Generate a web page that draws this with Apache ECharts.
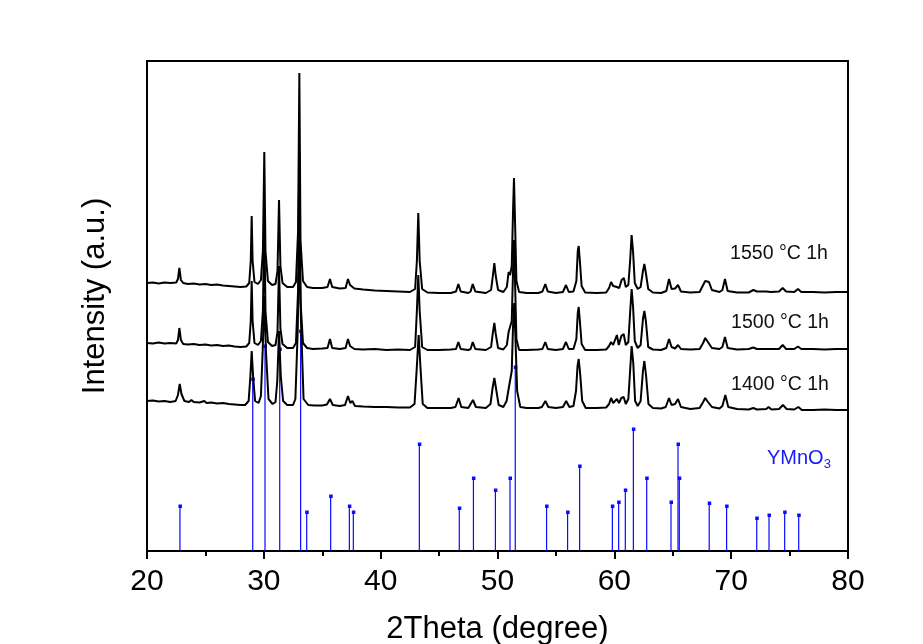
<!DOCTYPE html>
<html>
<head>
<meta charset="utf-8">
<script src="https://cdn.jsdelivr.net/npm/echarts@6/dist/echarts.min.js"></script>
<style>html,body{margin:0;padding:0;background:#fff}#c{width:923px;height:644px}</style>
</head>
<body>
<div id="c"></div>
<script>
// 2Theta tick labels
const xTicks = [20, 30, 40, 50, 60, 70, 80];
const traceNames = ['1550 °C 1h', '1500 °C 1h', '1400 °C 1h'];

// [2Theta, intensity (a.u., offset)]
const trace1550 = [[20.0,268],[20.5,268.5],[21.0,267.5],[21.5,268.5],[22.0,268],[22.5,268.5],[22.65,272],[22.77,283],[22.9,271],[23.1,268],[23.5,267],[24.0,267.5],[24.5,266.5],[25.0,267],[25.5,266],[26.0,266.5],[26.5,265.5],[27.0,265],[27.5,264.5],[28.0,264],[28.5,264.5],[28.75,268],[28.88,290],[28.96,335],[29.04,290],[29.2,269],[29.5,267],[29.75,271],[29.92,300],[30.04,399],[30.14,300],[30.35,270],[30.7,266],[31.0,267],[31.17,280],[31.3,351],[31.42,285],[31.6,268],[32.0,264],[32.5,264],[32.75,269],[32.93,320],[33.04,478],[33.14,310],[33.35,270],[33.7,264],[34.2,263],[35.0,263],[35.45,264],[35.66,272],[35.85,264],[36.5,262.5],[37.0,263],[37.2,272],[37.38,266],[37.55,267.5],[37.75,262.5],[38.5,261.5],[39.5,260.5],[40.5,260],[41.5,259.5],[42.5,259],[42.95,262],[43.1,290],[43.22,338],[43.34,290],[43.55,262],[44.0,258.5],[45.0,258],[46.0,258],[46.45,259.5],[46.65,267],[46.85,259.5],[47.5,258],[47.7,259.5],[47.88,267],[48.1,259.5],[49.0,258],[49.45,261],[49.6,275],[49.73,288],[49.85,275],[50.05,261],[50.5,259],[50.8,264],[50.95,279],[51.08,276],[51.22,285],[51.33,340],[51.41,373],[51.5,330],[51.62,270],[51.85,259],[52.5,258],[53.5,258],[53.85,259.5],[54.09,267],[54.3,259.5],[55.0,258],[55.6,259],[55.86,266],[56.1,259],[56.5,259.5],[56.75,270],[56.87,300],[56.95,305],[57.05,290],[57.2,265],[57.5,258.5],[58.5,258],[59.3,258.5],[59.55,263],[59.72,269],[59.9,265],[60.05,266],[60.22,264],[60.42,263],[60.62,271],[60.82,273],[60.98,264],[61.2,266],[61.35,290],[61.48,316],[61.6,300],[61.75,268],[62.0,262],[62.25,264],[62.45,280],[62.57,287],[62.7,278],[62.9,262],[63.3,258.5],[64.0,258],[64.45,260],[64.68,272],[64.9,262],[65.2,262.5],[65.45,266],[65.7,259.5],[66.5,258.5],[67.3,259],[67.6,266],[67.78,270],[67.95,268],[68.1,269],[68.35,261],[69.0,259],[69.25,261],[69.47,272],[69.7,260],[70.5,258.5],[71.5,258.5],[71.9,261],[72.2,259.5],[73.0,259.5],[73.15,261.5],[73.4,259],[74.1,259.5],[74.41,263],[74.7,259.5],[75.4,259],[75.72,262],[76.0,259],[77.0,259],[78.0,258.5],[79.0,259],[80.0,259]];

const trace1500 = [[20.0,208],[20.5,207.5],[21.0,208.5],[21.5,207.5],[22.0,208],[22.5,207.5],[22.65,211],[22.77,223],[22.9,211],[23.1,207],[23.5,206.5],[24.0,207],[24.5,206],[25.0,206.5],[25.5,205.5],[26.0,206],[26.5,205],[27.0,205.5],[27.5,204.5],[28.0,204],[28.5,204.5],[28.75,208],[28.88,230],[28.96,270],[29.04,230],[29.2,208],[29.5,206],[29.75,210],[29.92,240],[30.04,330],[30.14,240],[30.35,209],[30.7,205],[31.0,206],[31.17,219],[31.3,285],[31.42,222],[31.6,207],[32.0,203],[32.5,203],[32.75,208],[32.93,260],[33.04,400],[33.14,250],[33.35,208],[33.7,203],[34.2,202],[35.0,202.5],[35.45,203],[35.66,212],[35.85,203],[36.5,202],[37.0,203],[37.2,212],[37.38,205],[37.55,207],[37.75,202],[38.5,201.5],[39.5,202],[40.5,201],[41.5,201.5],[42.5,201],[42.95,204],[43.1,240],[43.22,276],[43.34,240],[43.55,204],[44.0,201],[45.0,201],[46.0,201.5],[46.45,202],[46.65,209],[46.85,202],[47.5,201],[47.7,202],[47.88,209],[48.1,202],[49.0,201],[49.45,204],[49.6,218],[49.73,228],[49.85,217],[50.05,203],[50.5,201.5],[50.8,206],[50.95,219],[51.08,217],[51.22,230],[51.33,280],[51.41,311],[51.5,270],[51.62,212],[51.85,201],[52.5,201],[53.5,201.5],[53.85,202],[54.09,209],[54.3,202],[55.0,201],[55.6,202],[55.86,209],[56.1,202],[56.5,202],[56.75,212],[56.87,238],[56.95,244],[57.05,230],[57.2,207],[57.5,201],[58.5,201],[59.3,201.5],[59.55,205],[59.72,209],[59.9,206],[60.05,208],[60.22,216],[60.38,206],[60.6,215],[60.8,217],[60.98,206],[61.2,209],[61.35,238],[61.48,262],[61.6,245],[61.75,210],[62.0,203],[62.25,206],[62.45,232],[62.57,240],[62.7,230],[62.9,204],[63.3,201.5],[64.0,201],[64.45,203],[64.68,212],[64.9,204],[65.2,202.5],[65.45,206],[65.7,202],[66.5,201.5],[67.3,202],[67.6,208],[67.78,213],[67.95,210],[68.1,211],[68.35,203],[69.0,202],[69.25,204],[69.47,214],[69.7,203],[70.5,201.5],[71.5,202],[71.9,203.5],[72.2,202],[73.0,202],[73.15,203.5],[73.4,202],[74.1,202],[74.41,206],[74.7,202],[75.4,202],[75.72,204.5],[76.0,202],[77.0,202],[78.0,201.5],[79.0,202],[80.0,202]];

const trace1400 = [[20.0,150],[20.5,150.5],[21.0,149.5],[21.5,150],[22.0,149],[22.45,150],[22.65,156],[22.8,167],[22.95,157],[23.2,150],[23.6,149],[23.8,151],[24.0,149],[24.5,148.5],[24.9,150],[25.1,148],[25.5,148.5],[26.0,147.5],[26.5,148],[27.0,147],[27.5,146.5],[28.0,146],[28.4,146],[28.7,150],[28.85,175],[28.96,200],[29.08,175],[29.25,150],[29.55,148],[29.75,155],[29.9,200],[30.04,255],[30.18,200],[30.4,152],[30.75,147],[31.0,149],[31.15,170],[31.3,220],[31.45,175],[31.65,150],[32.0,146],[32.5,146],[32.7,152],[32.9,220],[33.04,315],[33.18,230],[33.4,152],[33.8,146],[34.3,145.5],[35.0,145.5],[35.4,146.5],[35.66,152],[35.9,146],[36.5,145],[36.95,146],[37.2,155],[37.4,148],[37.58,150],[37.8,145],[38.5,144.5],[39.5,144],[40.5,144],[41.5,143.5],[42.5,143.5],[42.9,147],[43.1,185],[43.25,216],[43.4,185],[43.6,147],[44.0,143],[45.0,143],[46.0,143],[46.4,144],[46.67,153],[46.9,144],[47.5,143],[47.65,144],[47.9,151],[48.15,144],[49.0,143],[49.4,147],[49.58,163],[49.73,173],[49.88,162],[50.1,146],[50.5,144],[50.78,150],[50.95,162],[51.08,163],[51.22,180],[51.33,225],[51.43,248],[51.53,215],[51.68,160],[51.95,144],[52.5,143],[53.5,143],[53.8,144],[54.1,150],[54.35,144],[55.0,143],[55.6,144],[55.88,150],[56.15,144],[56.5,145],[56.72,160],[56.85,185],[56.95,192],[57.07,178],[57.25,150],[57.55,143],[58.5,143],[59.3,143.5],[59.55,147],[59.72,153],[59.9,148],[60.05,150],[60.22,152],[60.4,148],[60.6,153],[60.8,154],[60.98,147],[61.2,152],[61.35,180],[61.48,205],[61.62,188],[61.78,150],[62.0,145],[62.25,150],[62.45,180],[62.57,190],[62.72,175],[62.92,147],[63.3,143],[64.0,142.5],[64.4,144],[64.68,153],[64.9,146],[65.2,147],[65.45,152],[65.7,144],[66.5,142],[67.3,143],[67.6,149],[67.78,153],[67.95,150],[68.1,151],[68.35,144],[69.0,142.5],[69.25,145],[69.5,156],[69.75,144],[70.5,142],[71.5,141.5],[71.9,143],[72.2,141.5],[73.0,142],[73.2,144],[73.45,141.5],[74.1,142],[74.43,146],[74.75,142],[75.4,141.5],[75.75,144],[76.05,141],[77.0,141],[78.0,141.5],[79.0,141],[80.0,141]];

// YMnO3 reference pattern: positions and relative intensities
const refPos = [22.82,29.05,30.1,31.36,33.15,33.67,35.72,37.32,37.66,43.31,46.73,47.94,49.82,51.07,51.52,54.2,56.0,57.03,59.83,60.37,60.94,61.63,62.77,64.85,65.45,65.56,68.12,69.61,72.19,73.24,74.58,75.78];
const refInt = [45,172,205,202,220,39,55,45,39,107,43,73,61,73,184,45,39,85,45,49,61,122,73,49,107,73,48,45,33,36,39,36];

const chart = echarts.init(document.getElementById('c'), null, {renderer: 'canvas'});
const FONT = "'Liberation Sans', Arial, sans-serif";

const refData = refPos.map((p, i) => [p, refInt[i]]);

const option = {
  animation: false,
  backgroundColor: '#fff',
  grid: {left: 147, right: 75, top: 61, bottom: 93, show: true, borderColor: '#000', borderWidth: 2,
    backgroundColor: 'transparent', containLabel: false, outerBoundsMode: 'none'},
  xAxis: {
    type: 'value', min: 20, max: 80, interval: 10,
    name: '2Theta (degree)', nameLocation: 'middle', nameGap: 63,
    nameTextStyle: {fontFamily: FONT, fontSize: 31, color: '#000'},
    axisLine: {show: true, lineStyle: {color: '#000', width: 2}},
    axisTick: {show: true, inside: false, length: 8, lineStyle: {color: '#000', width: 2}},
    minorTick: {show: true, splitNumber: 2, length: 5, lineStyle: {color: '#000', width: 2}},
    splitLine: {show: false},
    axisLabel: {fontFamily: FONT, fontSize: 30, color: '#000', margin: 16,
      formatter: v => xTicks.includes(v) ? String(v) : ''}
  },
  yAxis: {
    type: 'value', min: 0, max: 490,
    axisLine: {show: false}, axisTick: {show: false}, axisLabel: {show: false}, splitLine: {show: false}
  },
  series: [
    {
      type: 'custom', name: 'YMnO3', z: 1,
      data: refData,
      renderItem: function (params, api) {
        const x = api.value(0), y = api.value(1);
        const p0 = api.coord([x, 0]);
        const p1 = api.coord([x, y]);
        return {
          type: 'group',
          children: [
            {type: 'line', shape: {x1: p0[0], y1: p0[1], x2: p1[0], y2: p1[1]}, style: {stroke: '#0a0aff', lineWidth: 1.2}},
            {type: 'rect', shape: {x: p1[0] - 1.5, y: p1[1] - 1.5, width: 3.5, height: 3.5}, style: {fill: '#0a0aff'}}
          ]
        };
      }
    },
    {type: 'line', name: traceNames[0], data: trace1550, showSymbol: false, z: 3, lineStyle: {color: '#000', width: 2}},
    {type: 'line', name: traceNames[1], data: trace1500, showSymbol: false, z: 3, lineStyle: {color: '#000', width: 2}},
    {type: 'line', name: traceNames[2], data: trace1400, showSymbol: false, z: 3, lineStyle: {color: '#000', width: 2}}
  ],
  graphic: [
    {type: 'text', x: 95, y: 296, rotation: Math.PI / 2,
      style: {text: 'Intensity (a.u.)', font: "31px " + FONT, fill: '#000', textAlign: 'center', textVerticalAlign: 'middle'}},
    {type: 'text', x: 779, y: 254, style: {text: traceNames[0], font: "19.5px " + FONT, fill: '#111', textAlign: 'center', textVerticalAlign: 'middle'}},
    {type: 'text', x: 780, y: 323, style: {text: traceNames[1], font: "19.5px " + FONT, fill: '#111', textAlign: 'center', textVerticalAlign: 'middle'}},
    {type: 'text', x: 780, y: 385, style: {text: traceNames[2], font: "19.5px " + FONT, fill: '#111', textAlign: 'center', textVerticalAlign: 'middle'}},
    {type: 'text', x: 767, y: 458, style: {
      text: '{a|YMnO}{b|3}', textVerticalAlign: 'middle',
      rich: {
        a: {fontFamily: FONT, fontSize: 20, fill: '#1a1aff', color: '#1a1aff'},
        b: {fontFamily: FONT, fontSize: 13, fill: '#1a1aff', color: '#1a1aff', padding: [12, 0, 0, 0]}
      }}}
  ]
};
chart.setOption(option);
</script>
</body>
</html>
